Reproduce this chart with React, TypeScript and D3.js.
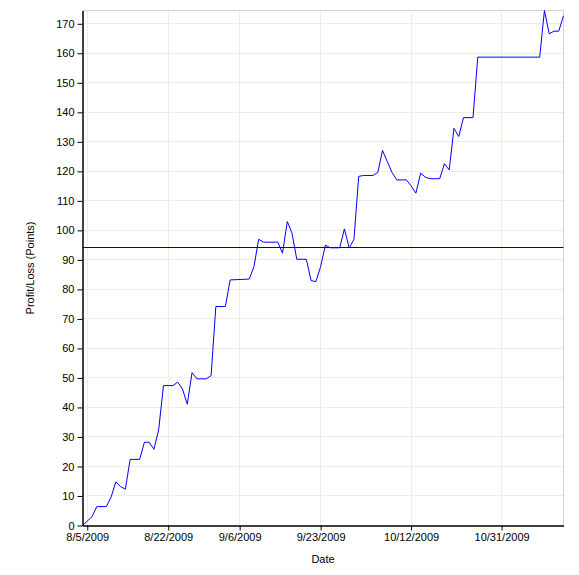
import { useEffect, useRef } from 'react';
import * as d3 from 'd3';

// Daily P/L vertices
const dates = [
  '2009-08-04', '2009-08-06', '2009-08-07', '2009-08-09', '2009-08-10', '2009-08-11',
  '2009-08-12', '2009-08-13', '2009-08-14', '2009-08-16', '2009-08-17', '2009-08-18',
  '2009-08-19', '2009-08-20', '2009-08-21', '2009-08-23', '2009-08-24', '2009-08-25',
  '2009-08-26', '2009-08-27', '2009-08-28', '2009-08-30', '2009-08-31', '2009-09-01',
  '2009-09-03', '2009-09-04', '2009-09-08', '2009-09-09', '2009-09-10', '2009-09-11',
  '2009-09-14', '2009-09-15', '2009-09-16', '2009-09-17', '2009-09-18', '2009-09-20',
  '2009-09-21', '2009-09-22', '2009-09-23', '2009-09-24', '2009-09-25', '2009-09-27',
  '2009-09-28', '2009-09-29', '2009-09-30', '2009-10-01', '2009-10-02', '2009-10-04',
  '2009-10-05', '2009-10-06', '2009-10-07', '2009-10-08', '2009-10-09', '2009-10-11',
  '2009-10-12', '2009-10-13', '2009-10-14', '2009-10-15', '2009-10-16', '2009-10-18',
  '2009-10-19', '2009-10-20', '2009-10-21', '2009-10-22', '2009-10-23', '2009-10-25',
  '2009-10-26', '2009-11-08', '2009-11-09', '2009-11-10', '2009-11-11', '2009-11-12',
  '2009-11-13'
];

const pnl = [
  0, 3.0, 6.4, 6.4, 9.6, 14.8,
  13.2, 12.3, 22.4, 22.4, 28.2, 28.2,
  25.8, 32.5, 47.4, 47.4, 48.6, 46.2,
  41.1, 51.8, 49.7, 49.7, 50.8, 74.2,
  74.2, 83.2, 83.5, 87.7, 97.0, 96.0,
  96.0, 92.3, 103.0, 99.0, 90.2, 90.2,
  83.0, 82.6, 87.7, 95.0, 94.1, 94.1,
  100.5, 94.0, 97.0, 118.3, 118.6, 118.6,
  119.6, 127.1, 123.3, 119.6, 117.1, 117.1,
  115.1, 112.6, 119.4, 118.0, 117.5, 117.5,
  122.6, 120.5, 134.6, 131.8, 138.2, 138.2,
  158.7, 158.7, 174.5, 166.6, 167.5, 167.5,
  172.7
];

const xTickDates = ['2009-08-05', '2009-08-22', '2009-09-06', '2009-09-23', '2009-10-12', '2009-10-31'];
const yTicks = [0, 10, 20, 30, 40, 50, 60, 70, 80, 90, 100, 110, 120, 130, 140, 150, 160, 170];
const referenceLevel = 94.3;

export default function App() {
  const svgRef = useRef<SVGSVGElement>(null);

  useEffect(() => {
    if (!svgRef.current) return;

    const svg = d3.select(svgRef.current);
    svg.selectAll('*').remove();

    const width = 579;
    const height = 575;
    const margin = { top: 10.5, right: 15.5, bottom: 49.5, left: 82.5 };
    const innerW = width - margin.left - margin.right;
    const innerH = height - margin.top - margin.bottom;
    const font = 'Arial, "Liberation Sans", sans-serif';

    const parse = d3.timeParse('%Y-%m-%d');
    const data = dates.map((d, i) => ({ date: parse(d)!, value: pnl[i] }));
    const xTicks = xTickDates.map(d => parse(d)!);

    const x = d3.scaleTime()
      .domain(d3.extent(data, d => d.date) as [Date, Date])
      .range([0, innerW]);

    const y = d3.scaleLinear()
      .domain([0, d3.max(data, d => d.value) || 0])
      .range([innerH, 0]);

    svg.append('rect')
      .attr('width', width)
      .attr('height', height)
      .attr('fill', 'white');

    const g = svg.append('g')
      .attr('transform', `translate(${margin.left},${margin.top})`);

    // grid
    g.append('g')
      .selectAll('line')
      .data(yTicks.filter(t => t > 0))
      .enter().append('line')
      .attr('x1', 0)
      .attr('x2', innerW)
      .attr('y1', d => Math.round(y(d)) + 0.5 - margin.top % 1)
      .attr('y2', d => Math.round(y(d)) + 0.5 - margin.top % 1)
      .attr('stroke', '#f0eee0');

    g.append('g')
      .selectAll('line')
      .data(xTicks)
      .enter().append('line')
      .attr('x1', d => Math.round(x(d)))
      .attr('x2', d => Math.round(x(d)))
      .attr('y1', 0)
      .attr('y2', innerH)
      .attr('stroke', '#f0eee0');

    // top/right frame
    g.append('path')
      .attr('d', `M0,0H${innerW}V${innerH}`)
      .attr('fill', 'none')
      .attr('stroke', '#d4d4d4');

    // reference line
    g.append('line')
      .attr('x1', 0)
      .attr('x2', innerW)
      .attr('y1', Math.round(y(referenceLevel)) + 0.5 - margin.top % 1)
      .attr('y2', Math.round(y(referenceLevel)) + 0.5 - margin.top % 1)
      .attr('stroke', '#0000a0');

    // P/L line
    const line = d3.line<{ date: Date; value: number }>()
      .x(d => x(d.date))
      .y(d => y(d.value));

    g.append('path')
      .datum(data)
      .attr('d', line)
      .attr('fill', 'none')
      .attr('stroke', '#0000ff')
      .attr('stroke-width', 1);

    // axes
    const xAxis = g.append('g')
      .attr('transform', `translate(0,${innerH})`)
      .call(d3.axisBottom(x)
        .tickValues(xTicks)
        .tickSize(5)
        .tickSizeOuter(0)
        .tickFormat(d => d3.timeFormat('%-m/%-d/%Y')(d as Date)));

    const yAxis = g.append('g')
      .call(d3.axisLeft(y)
        .tickValues(yTicks)
        .tickSize(5)
        .tickSizeOuter(0)
        .tickPadding(3));

    [xAxis, yAxis].forEach(a => {
      a.select('.domain').attr('stroke', '#000').attr('stroke-width', 1.5);
      a.selectAll('.tick line').attr('stroke', '#000');
      a.selectAll('.tick text')
        .attr('fill', '#000')
        .style('font-family', font)
        .style('font-size', '11px');
    });

    // titles
    svg.append('text')
      .attr('x', margin.left + innerW / 2)
      .attr('y', 563)
      .attr('text-anchor', 'middle')
      .style('font-family', font)
      .style('font-size', '11px')
      .text('Date');

    svg.append('text')
      .attr('transform', `translate(34,${margin.top + innerH / 2}) rotate(-90)`)
      .attr('text-anchor', 'middle')
      .style('font-family', font)
      .style('font-size', '11px')
      .text('Profit/Loss (Points)');
  }, []);

  return (
    <svg
      ref={svgRef}
      width={579}
      height={575}
      style={{ position: 'absolute', left: 0, top: 0 }}
    />
  );
}
